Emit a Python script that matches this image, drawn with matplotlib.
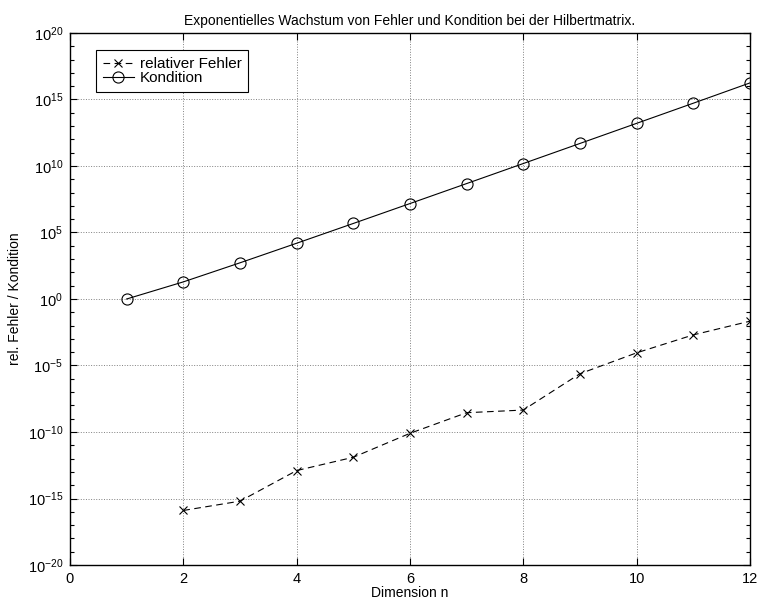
import numpy as np
import matplotlib.pyplot as plt
from matplotlib.ticker import FixedLocator, FuncFormatter, NullFormatter

plt.rcParams['font.family'] = ['Liberation Sans', 'DejaVu Sans']
plt.rcParams['mathtext.fontset'] = 'custom'
plt.rcParams['mathtext.rm'] = 'Liberation Sans'
plt.rcParams['mathtext.it'] = 'Liberation Sans:italic'

# Dimension n
n_err = [2, 3, 4, 5, 6, 7, 8, 9, 10, 11, 12]
n_cond = [1, 2, 3, 4, 5, 6, 7, 8, 9, 10, 11, 12]

# relativer Fehler (log10)
log_err = [-15.9, -15.2, -12.9, -11.9, -10.1, -8.55, -8.35, -5.62, -4.05, -2.7, -1.67]
fehler = [10.0**v for v in log_err]

# Kondition der Hilbertmatrix
kondition = [1.0, 19.28, 524.06, 1.5514e4, 4.7661e5, 1.4951e7, 4.7537e8,
             1.5258e10, 4.9315e11, 1.6025e13, 5.2227e14, 1.7515e16]

fig = plt.figure(figsize=(7.59, 6.05), dpi=100)
ax = fig.add_axes([0.0922, 0.0661, 0.8958, 0.8794])

ax.semilogy(n_err, fehler, color='black', linestyle='--', dashes=(6, 4),
            linewidth=0.8, marker='x', markersize=6, markeredgewidth=0.8,
            label='relativer Fehler')
ax.semilogy(n_cond, kondition, color='black', linestyle='-', linewidth=0.8,
            marker='o', markersize=8, fillstyle='none', markeredgewidth=0.8,
            label='Kondition')

ax.set_xlim(0, 12)
ax.set_ylim(1e-20, 1e20)
ax.set_xticks(range(0, 13, 2))
ax.yaxis.set_major_locator(FixedLocator([10.0**k for k in range(-20, 21, 5)]))
ax.yaxis.set_minor_locator(FixedLocator([10.0**k for k in range(-20, 21)]))
ax.yaxis.set_major_formatter(FuncFormatter(lambda v, p: r'$10^{%d}$' % round(np.log10(v))))
ax.yaxis.set_minor_formatter(NullFormatter())

ax.tick_params(which='both', direction='in', top=True, right=True, labelsize=10.5)
ax.tick_params(which='major', length=5, width=0.8, pad=5)
ax.tick_params(which='minor', length=3, width=0.8)
ax.grid(True, which='major', linestyle=':', color='gray', linewidth=0.7)

for s in ax.spines.values():
    s.set_linewidth(1.0)

ax.set_title('Exponentielles Wachstum von Fehler und Kondition bei der Hilbertmatrix.',
             fontsize=10, pad=6)
ax.set_xlabel('Dimension n', fontsize=10, labelpad=0)
ax.set_ylabel('rel. Fehler / Kondition', fontsize=10, labelpad=4)

leg = ax.legend(loc='upper left', bbox_to_anchor=(0.0385, 0.968), fontsize=11,
                fancybox=False, edgecolor='black', framealpha=1,
                handlelength=2.0, borderpad=0.45, labelspacing=0.0,
                handletextpad=0.4, borderaxespad=0.0)
leg.get_frame().set_linewidth(0.8)

fig.savefig('out.png', dpi=100)
